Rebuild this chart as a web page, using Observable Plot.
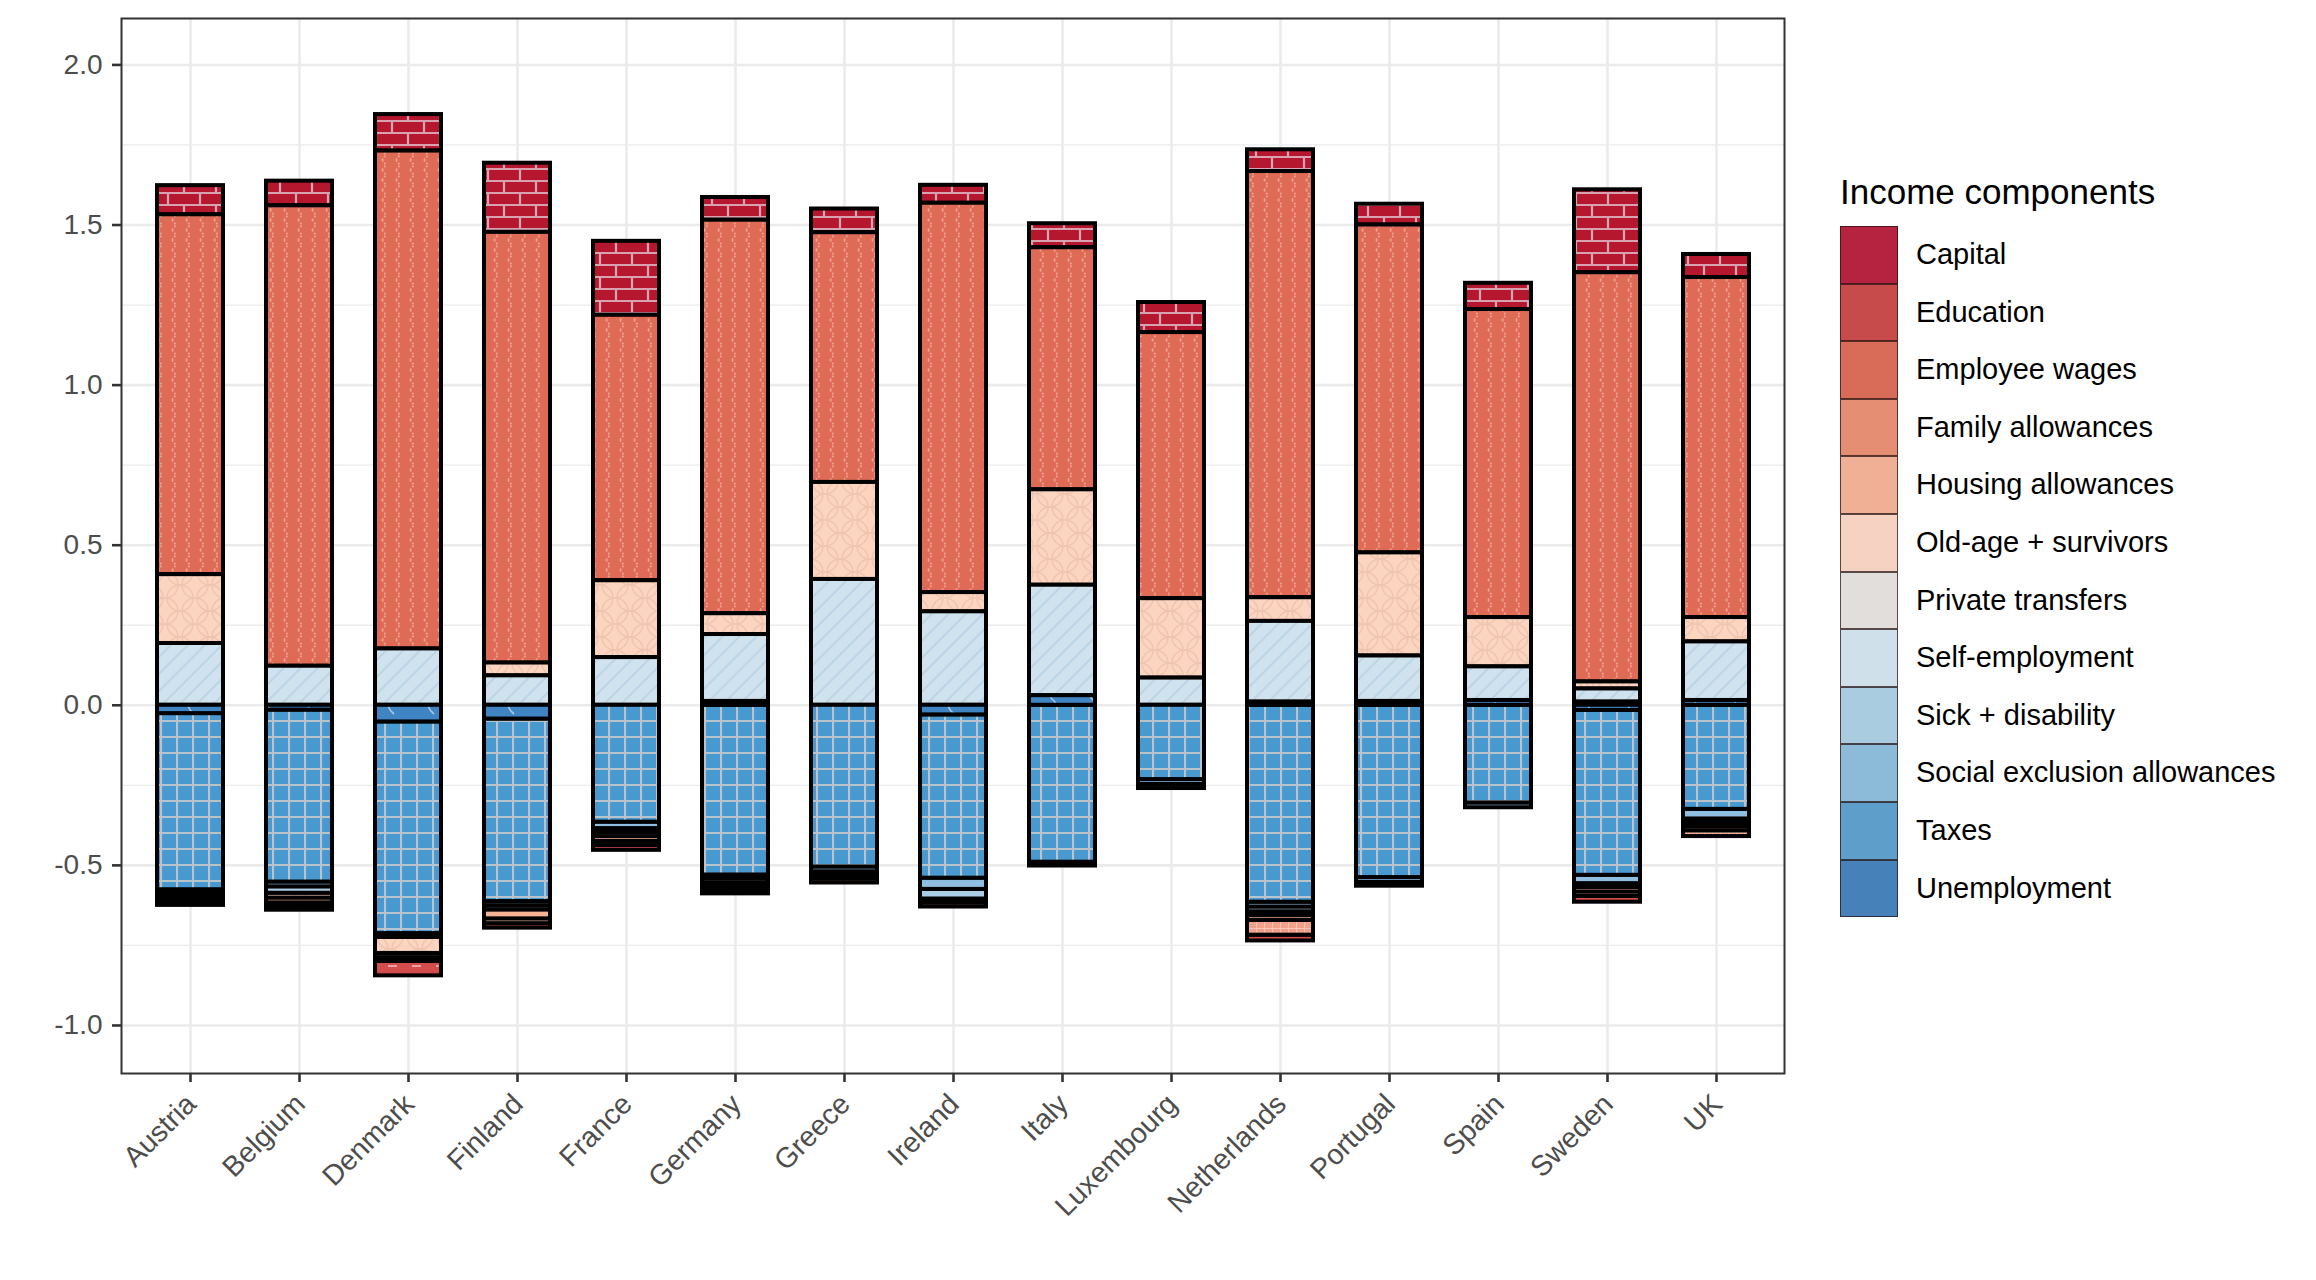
<!DOCTYPE html>
<html>
<head>
<meta charset="utf-8">
<script src="https://cdn.jsdelivr.net/npm/d3@7"></script>
<script src="https://cdn.jsdelivr.net/npm/@observablehq/plot@0.6"></script>
<style>
  html, body { margin: 0; padding: 0; background: #fff; }
  #wrap { position: relative; width: 2316px; height: 1280px; font-family: "Liberation Sans", Arial, Helvetica, sans-serif; }
  #legend { position: absolute; left: 1840px; top: 0; }
  #legend .title { position: absolute; left: 0; top: 172px; font-size: 35px; color: #000; white-space: nowrap; }
  #legend .key { position: absolute; left: 0; width: 58px; height: 57.6px; box-sizing: border-box; border: 1.5px solid rgba(40,20,20,0.75); }
  #legend .lab { position: absolute; left: 76px; font-size: 29px; color: #000; white-space: nowrap; line-height: 57.6px; }
</style>
</head>
<body>
<div id="wrap"><div id="legend"></div></div>
<script>
// ---------------- data ----------------
const countries = ["Austria","Belgium","Denmark","Finland","France","Germany","Greece","Ireland","Italy","Luxembourg","Netherlands","Portugal","Spain","Sweden","UK"];
const components = ["Capital","Education","Employee wages","Family allowances","Housing allowances","Old-age + survivors","Private transfers","Self-employment","Sick + disability","Social exclusion allowances","Taxes","Unemployment"];
const legendColors = ["#b52340","#c84b4b","#d96b59","#e58e73","#efb095","#f6d2c2","#e2dedb","#cfe0eb","#a9cce1","#8bbbd9","#5d9fca","#4682b9"];

const capital        = [0.091, 0.077, 0.114, 0.216, 0.231, 0.071, 0.074, 0.056, 0.075, 0.094, 0.068, 0.065, 0.082, 0.259, 0.072];
const education      = [0, -0.011, -0.045, -0.014, -0.015, -0.012, 0, 0, 0, 0, -0.018, 0, 0, -0.018, 0];
const employeeWages  = [1.124, 1.438, 1.555, 1.345, 0.829, 1.229, 0.780, 1.216, 0.756, 0.831, 1.331, 1.024, 0.962, 1.278, 1.062];
const familyAllow    = [-0.007, -0.012, -0.012, -0.015, -0.013, -0.012, 0, 0, 0, 0, -0.046, 0, 0, -0.014, -0.018];
const housingAllow   = [-0.010, -0.015, -0.013, -0.028, -0.015, -0.010, -0.013, -0.013, 0, 0, -0.015, 0, 0, -0.014, -0.013];
const oldAge         = [0.215, -0.015, -0.050, 0.040, 0.240, 0.065, 0.303, 0.060, 0.298, 0.248, 0.074, 0.322, 0.154, 0.022, 0.076];
const privateTransf  = [-0.010, 0, 0, 0, -0.013, -0.013, -0.012, -0.012, 0, 0, -0.012, 0, 0, -0.012, -0.012];
const selfEmployment = [0.193, 0.122, 0.176, 0.092, 0.149, 0.209, 0.393, 0.292, 0.345, 0.085, 0.252, 0.142, 0.105, 0.041, 0.183];
const sickDisability = [-0.010, -0.020, 0, -0.013, -0.012, 0, -0.010, -0.030, 0, -0.013, -0.015, -0.012, 0, 0.010, -0.012];
const socialExcl     = [-0.012, -0.015, -0.012, -0.013, -0.020, -0.012, -0.015, -0.035, -0.012, -0.015, -0.015, -0.015, -0.015, -0.026, -0.030];
const taxes          = [-0.550, -0.537, -0.661, -0.570, -0.365, -0.530, -0.505, -0.510, -0.490, -0.232, -0.615, -0.538, -0.305, -0.515, -0.325];
const unemployment   = [-0.026, -0.015, -0.052, -0.043, 0, 0.012, 0, -0.030, 0.030, 0, 0.010, 0.012, 0.015, -0.016, 0.015];

const yTicks = [-1, -0.5, 0, 0.5, 1, 1.5, 2];
const yMinorTicks = [-0.75, -0.25, 0.25, 0.75, 1.25, 1.75];

// ---------------- build table ----------------
const seriesList = [capital, education, employeeWages, familyAllow, housingAllow, oldAge, privateTransf, selfEmployment, sickDisability, socialExcl, taxes, unemployment];
const data = components.flatMap((c, j) => countries.map((k, i) => ({country: k, component: c, value: seriesList[j][i]})))
  .filter(d => d.value !== 0);
const stackOrder = components.slice().reverse();

// bar fills (textures like ggpattern)
const barFill = {
  "Capital": "url(#p-capital)",
  "Education": "url(#p-edu)",
  "Employee wages": "url(#p-wages)",
  "Family allowances": "url(#p-family)",
  "Housing allowances": "#f6b394",
  "Old-age + survivors": "url(#p-oldage)",
  "Private transfers": "#e6e1de",
  "Self-employment": "url(#p-self)",
  "Sick + disability": "#a9cde4",
  "Social exclusion allowances": "#8fbfe0",
  "Taxes": "url(#p-taxes)",
  "Unemployment": "url(#p-unemp)"
};

const defs = `
<defs>
 <pattern id="p-capital" patternUnits="userSpaceOnUse" width="32" height="24">
   <rect width="32" height="24" fill="#b5172e"/>
   <path d="M0 1H32 M0 13H32 M8 1V13 M24 13V24" stroke="#d9a2b1" stroke-width="2.2" fill="none"/>
 </pattern>
 <pattern id="p-wages" patternUnits="userSpaceOnUse" width="14" height="10">
   <rect width="14" height="10" fill="#df6b56"/>
   <path d="M4 0 L8 5 L4 10" stroke="#eca08e" stroke-width="1.7" fill="none" stroke-dasharray="2 1.6"/>
 </pattern>
 <pattern id="p-oldage" patternUnits="userSpaceOnUse" width="30" height="26">
   <rect width="30" height="26" fill="#fcd5c0"/>
   <g fill="none" stroke="#efc4b1" stroke-width="1.4">
     <circle cx="0" cy="0" r="13"/><circle cx="30" cy="0" r="13"/><circle cx="0" cy="26" r="13"/><circle cx="30" cy="26" r="13"/><circle cx="15" cy="13" r="13"/>
   </g>
 </pattern>
 <pattern id="p-self" patternUnits="userSpaceOnUse" width="12" height="12" patternTransform="rotate(45)">
   <rect width="12" height="12" fill="#cfe2ee"/>
   <line x1="1" y1="0" x2="1" y2="12" stroke="#bcd4e5" stroke-width="2"/>
 </pattern>
 <pattern id="p-taxes" patternUnits="userSpaceOnUse" width="16" height="16">
   <rect width="16" height="16" fill="#4799d0"/>
   <path d="M0 1H16 M1 0V16" stroke="#b9c3cc" stroke-width="2.2"/>
 </pattern>
 <pattern id="p-unemp" patternUnits="userSpaceOnUse" width="40" height="30">
   <rect width="40" height="30" fill="#3f85c3"/>
   <path d="M8 3 q3 6 8 10 M28 16 q2 5 6 8" stroke="#a9c7e2" stroke-width="1.6" fill="none"/>
 </pattern>
 <pattern id="p-edu" patternUnits="userSpaceOnUse" width="24" height="12">
   <rect width="24" height="12" fill="#d24d4c"/>
   <path d="M4 6H13" stroke="#eaa3a1" stroke-width="2"/>
 </pattern>
 <pattern id="p-family" patternUnits="userSpaceOnUse" width="8" height="8">
   <rect width="8" height="8" fill="#f1a08a"/>
   <path d="M0 0.5H8 M0.5 0V8" stroke="#f7c3b5" stroke-width="1.2"/>
 </pattern>
</defs>`;

const axisColor = "#4d4d4d";

const svg = Plot.plot({
  width: 2316,
  height: 1280,
  marginLeft: 121,
  marginRight: 532,
  marginTop: 18,
  marginBottom: 207,
  style: {fontFamily: '"Liberation Sans", Arial, Helvetica, sans-serif', fontSize: "28px", background: "white", overflow: "visible"},
  x: {domain: countries, paddingInner: 0.397, paddingOuter: 0.298, axis: null, label: null},
  y: {domain: [-1.15, 2.145], axis: null, label: null},
  color: {type: "identity"},
  marks: [
    Plot.gridY({ticks: yMinorTicks, stroke: "#ebebeb", strokeOpacity: 1, strokeWidth: 1.3}),
    Plot.gridY({ticks: yTicks, stroke: "#ebebeb", strokeOpacity: 1, strokeWidth: 2.6}),
    Plot.gridX({stroke: "#ebebeb", strokeOpacity: 1, strokeWidth: 2.6}),
    Plot.barY(data, {
      x: "country", y: "value", z: "component", order: stackOrder,
      fill: d => barFill[d.component],
      stroke: "#000", strokeWidth: 4
    }),
    Plot.frame({stroke: "#333333", strokeWidth: 2}),
    Plot.axisY({ticks: yTicks, tickFormat: d => d.toFixed(1), tickSize: 9, tickPadding: 10, fontSize: 28, stroke: "#333333", strokeWidth: 2.6, fill: axisColor, label: null}),
    Plot.axisX({tickSize: 9, tickFormat: () => "", stroke: "#333333", strokeWidth: 2.6, label: null}),
    Plot.text(countries, {x: d => d, frameAnchor: "bottom", dy: 18, dx: -7, rotate: -45, textAnchor: "end", lineAnchor: "top", fontSize: 28.5, fill: axisColor})
  ]
});

// add pattern definitions to the svg
const tmp = document.createElementNS("http://www.w3.org/2000/svg", "svg");
tmp.innerHTML = defs;
svg.insertBefore(tmp.querySelector("defs"), svg.firstChild);

const wrap = document.getElementById("wrap");
wrap.insertBefore(svg, wrap.firstChild);
svg.style.position = "absolute";
svg.style.left = "0";
svg.style.top = "0";

// ---------------- legend ----------------
const legend = document.getElementById("legend");
const title = document.createElement("div");
title.className = "title";
title.textContent = "Income components";
legend.appendChild(title);
const keyTop = 226, keyH = 57.6;
components.forEach((c, i) => {
  const k = document.createElement("div");
  k.className = "key";
  k.style.top = (keyTop + i * keyH) + "px";
  k.style.background = legendColors[i];
  legend.appendChild(k);
  const l = document.createElement("div");
  l.className = "lab";
  l.style.top = (keyTop + i * keyH) + "px";
  l.textContent = c;
  legend.appendChild(l);
});
</script>
</body>
</html>
